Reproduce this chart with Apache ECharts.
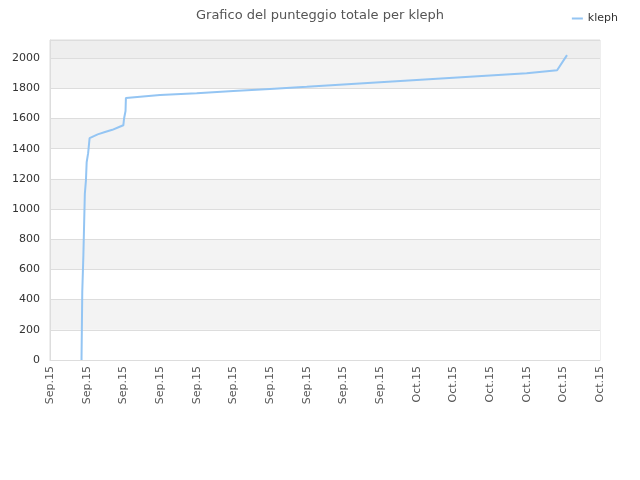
<!DOCTYPE html>
<html><head><meta charset="utf-8">
<script src="https://cdn.jsdelivr.net/npm/echarts@6/dist/echarts.min.js"></script>
<style>html,body{margin:0;padding:0;background:#fff}#c{width:640px;height:480px}</style>
</head><body><div id="c"></div>
<script>
const xTickLabels = ["Sep.15","Sep.15","Sep.15","Sep.15","Sep.15","Sep.15","Sep.15","Sep.15","Sep.15","Sep.15","Oct.15","Oct.15","Oct.15","Oct.15","Oct.15","Oct.15"];
const times = [0.86,0.86,0.88,0.88,0.91,0.91,0.95,0.95,0.98,0.98,1.0,1.0,1.04,1.04,1.08,1.08,1.1,1.3,1.5,1.7,1.9,2.0,2.02,2.02,2.06,2.07,2.1,3,4,5,6,7,8,9,10,11,12,13,13.83,14.1];
const scores = [0,20,30,450,460,690,700,1100,1110,1190,1200,1310,1320,1370,1380,1470,1480,1495,1510,1525,1545,1555,1560,1600,1650,1735,1742,1755,1768,1782,1796,1810,1825,1840,1855,1870,1885,1900,1920,2020];
const seriesName = "kleph";
const titleText = "Grafico del punteggio totale per kleph";

const data = times.map((t,i)=>[t,scores[i]]);
const chart = echarts.init(document.getElementById('c'));
chart.setOption({
  animation:false,
  title:{text:titleText,left:'center',top:4,textStyle:{fontSize:13,fontWeight:'normal',color:'#555',fontFamily:'DejaVu Sans'}},
  legend:{right:17,top:8,itemWidth:11,itemHeight:2,itemGap:8,textStyle:{fontSize:11,color:'#333',fontFamily:'DejaVu Sans'},data:[{name:seriesName,icon:'rect'}]},
  grid:{left:50,right:40,top:40,bottom:120,show:true,borderColor:'#dddddd',borderWidth:1},
  xAxis:{type:'value',min:0,max:15,interval:1,
    axisLine:{show:true,lineStyle:{color:'#dddddd'}},axisTick:{show:false},splitLine:{show:false},
    axisLabel:{rotate:90,fontSize:11,color:'#555',fontFamily:'DejaVu Sans',margin:6,formatter:(v)=>xTickLabels[Math.round(v)]}},
  yAxis:{type:'value',min:0,max:2120,interval:200,
    axisLine:{show:true,lineStyle:{color:'#dddddd'}},axisTick:{show:false},
    axisLabel:{fontSize:11,color:'#333',fontFamily:'DejaVu Sans',showMaxLabel:false,margin:10,formatter:(v)=>String(v)},
    splitLine:{show:true,lineStyle:{color:'#dddddd'}},
    splitArea:{show:true,areaStyle:{color:['#ffffff','#f3f3f3','#ffffff','#f3f3f3','#ffffff','#f3f3f3','#ffffff','#f3f3f3','#ffffff','#f3f3f3','#eeeeee']}}},
  series:[{name:seriesName,type:'line',data:data,showSymbol:false,lineStyle:{color:'#94c5f3',width:2},itemStyle:{color:'#94c5f3'}}]
});
</script></body></html>
